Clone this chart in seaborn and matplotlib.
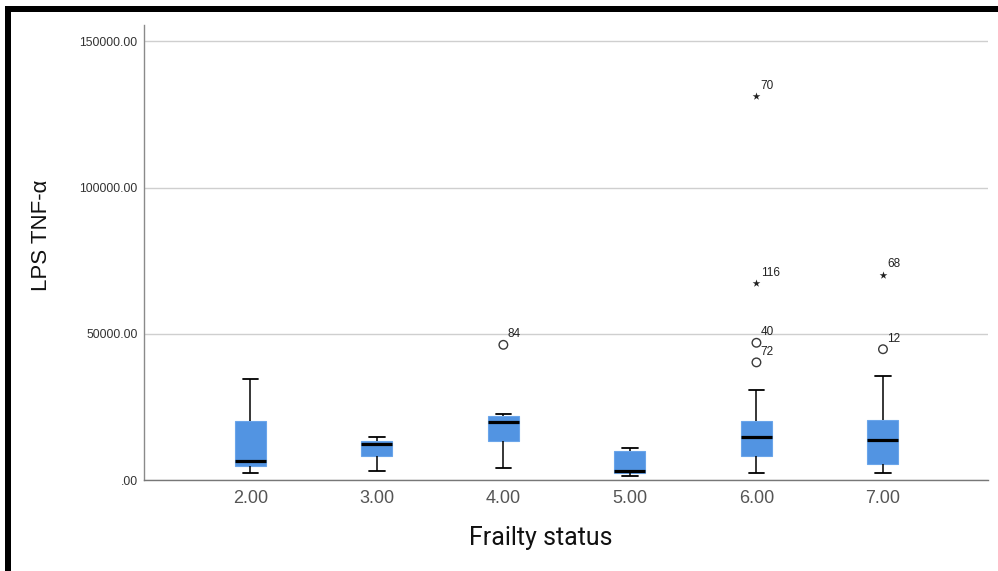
import numpy as np
import pandas as pd
import matplotlib
matplotlib.use("Agg")
import matplotlib.pyplot as plt
from matplotlib.patches import Rectangle
import seaborn as sns

# Five-number summaries of LPS TNF-alpha by frailty status
groups = ["2.00", "3.00", "4.00", "5.00", "6.00", "7.00"]
whisker_low = [2400, 3100, 4100, 1600, 2600, 2500]
q1 = [4900, 8300, 13400, 2400, 8400, 5600]
median = [6700, 12400, 19900, 3300, 14900, 13700]
q3 = [20400, 13400, 22000, 10000, 20100, 20700]
whisker_high = [34600, 14800, 22500, 11200, 30800, 35500]

# Outlying cases (circles) and extreme cases (stars), with case numbers
outlier_group = ["4.00", "6.00", "6.00", "7.00"]
outlier_value = [46300, 47000, 40300, 44800]
outlier_case = ["84", "40", "72", "12"]

extreme_group = ["6.00", "6.00", "7.00"]
extreme_value = [131200, 67400, 70300]
extreme_case = ["70", "116", "68"]

y_ticks = [0, 50000, 100000, 150000]
y_tick_labels = [".00", "50000.00", "100000.00", "150000.00"]

BOX_BLUE = "#5294e2"

sns.set_style("white")
plt.rcParams["font.family"] = ["Liberation Sans", "DejaVu Sans"]

# Long table: each group contributes its summary points so the box statistics
# reproduce the quartiles and whisker ends
rows = []
for g, lo, a, m, b, hi in zip(groups, whisker_low, q1, median, q3, whisker_high):
    for v in (lo, a, m, b, hi):
        rows.append({"Frailty status": g, "LPS TNF-alpha": v})
df = pd.DataFrame(rows)

fig = plt.figure(figsize=(9.98, 5.71), dpi=100)
ax = fig.add_axes([144 / 998, 1 - 480.3 / 571, (988 - 144) / 998, (480.3 - 25) / 571])

sns.boxplot(
    data=df, x="Frailty status", y="LPS TNF-alpha", order=groups,
    whis=(0, 100), width=0.245, color=BOX_BLUE, saturation=1,
    fliersize=0, ax=ax, zorder=3,
    boxprops=dict(facecolor=BOX_BLUE, edgecolor="#6aa5ea", linewidth=0.8),
    medianprops=dict(color="black", linewidth=2.3),
    whiskerprops=dict(color="black", linewidth=1.1),
    capprops=dict(color="black", linewidth=1.3),
)

# Outliers and extremes with case labels
pos = {g: i for i, g in enumerate(groups)}
ax.scatter([pos[g] for g in outlier_group], outlier_value, marker="o", s=38,
           facecolors="none", edgecolors="#3a3a3a", linewidths=1.0, zorder=4)
ax.scatter([pos[g] for g in extreme_group], extreme_value, marker="*", s=34,
           color="#222222", linewidths=0, zorder=4)
for g, v, c in list(zip(outlier_group, outlier_value, outlier_case)) + \
        list(zip(extreme_group, extreme_value, extreme_case)):
    ax.annotate(c, (pos[g], v), xytext=(3, 3.2), textcoords="offset points",
                fontsize=8.5, color="#222222", ha="left", va="bottom")

ax.set_xlim(-0.84, 5.83)
ax.set_ylim(0, 155600)
ax.set_yticks(y_ticks)
ax.set_yticklabels(y_tick_labels)

ax.yaxis.grid(True, color="#cfcfcf", linewidth=1.0, zorder=0)
ax.xaxis.grid(False)
ax.set_axisbelow(True)

for side in ("top", "right"):
    ax.spines[side].set_visible(False)
ax.spines["left"].set_color("#8a8a8a")
ax.spines["bottom"].set_color("#777777")
ax.spines["left"].set_linewidth(1.0)
ax.spines["bottom"].set_linewidth(1.0)

ax.tick_params(axis="y", length=0, pad=4.5, labelsize=8.8, labelcolor="#333333")
ax.tick_params(axis="x", length=0, pad=7, labelsize=13, labelcolor="#555555")

ax.set_xlabel("Frailty status", fontsize=18, color="#111111",
              family=["Roboto", "DejaVu Sans"])
ax.set_ylabel("LPS TNF-\u03b1", fontsize=16, color="#111111")
ax.xaxis.set_label_coords(0.470, -0.100)
ax.yaxis.set_label_coords(-0.109, 0.537)

# Heavy frame along the left and top edges
fig.add_artist(Rectangle((5 / 998, 0), 6 / 998, (571 - 6) / 571,
                         transform=fig.transFigure, color="black", lw=0))
fig.add_artist(Rectangle((5 / 998, 1 - 12 / 571), 993 / 998, 6 / 571,
                         transform=fig.transFigure, color="black", lw=0))

fig.savefig("out.png", dpi=100, facecolor="white")
